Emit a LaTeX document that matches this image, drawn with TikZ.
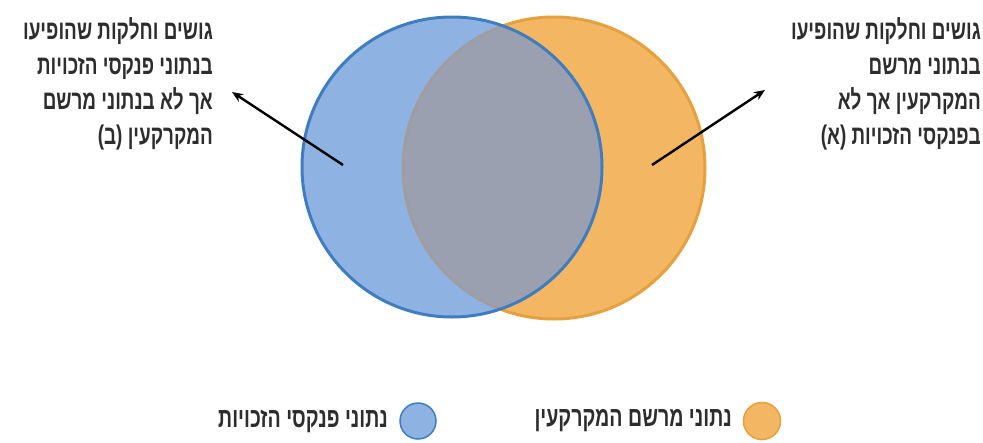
\documentclass[tikz,border=0pt]{standalone}
\usepackage{fontspec}
\usetikzlibrary{arrows.meta}
\TeXXeTstate=1
\newfontfamily\heb[Script=Hebrew,FakeStretch=0.7]{Liberation Sans Bold}
\definecolor{bfill}{RGB}{142,179,226}
\definecolor{bedge}{RGB}{62,125,192}
\definecolor{ofill}{RGB}{243,183,100}
\definecolor{oedge}{RGB}{230,160,62}
\definecolor{lens}{RGB}{155,160,176}
\definecolor{lensedge}{RGB}{160,156,162}
\definecolor{txt}{RGB}{45,45,45}
\tikzset{
  lbl/.style={font=\heb\fontsize{27}{35}\selectfont, text=txt, align=right, inner sep=0pt},
  leg/.style={font=\heb\fontsize{28}{30}\selectfont, text=txt, inner sep=0pt},
  arr/.style={line width=2.4pt, -{Stealth[length=11pt,width=9pt]}, black},
}
\begin{document}
\begin{tikzpicture}[x=1pt,y=1pt]
\useasboundingbox[fill=white] (0,0) rectangle (983,-442);
% Venn circles
\coordinate (bc) at (452,-167);
\coordinate (oc) at (554,-168);
\fill[ofill] (oc) circle (151);
\draw[oedge, line width=3pt] (oc) circle (151);
\fill[bfill] (bc) circle (150);
\begin{scope}
  \clip (bc) circle (150);
  \fill[lens] (oc) circle (151);
  \draw[lensedge, line width=3pt] (oc) circle (151);
\end{scope}
\draw[bedge, line width=3pt] (bc) circle (150);
% arrows
\coordinate (la) at (343,-165);
\coordinate (lb) at (232,-92);
\coordinate (ra) at (652,-165);
\coordinate (rb) at (765,-90);
\draw[arr] (la) -- (lb);
\draw[arr] (ra) -- (rb);
% labels
\node[lbl, anchor=north east] (tl) at (213,-17) {\beginR גושים וחלקות שהופיעו\endR\\\beginR בנתוני פנקסי הזכויות\endR\\\beginR אך לא בנתוני מרשם\endR\\\beginR המקרקעין (ב)\endR};
\node[lbl, anchor=north east] (tr) at (981,-17) {\beginR גושים וחלקות שהופיעו\endR\\\beginR בנתוני מרשם\endR\\\beginR המקרקעין אך לא\endR\\\beginR בפנקסי הזכויות (א)\endR};
% legend
\node[circle, minimum size=36pt, inner sep=0pt, fill=bfill, draw=bedge, line width=1.5pt] (lgb) at (418,-421) {};
\node[circle, minimum size=37pt, inner sep=0pt, fill=ofill, draw=oedge, line width=1.5pt] (lgo) at (762,-421) {};
\node[leg, anchor=east] (lgbt) at (388,-421) {\beginR נתוני פנקסי הזכויות\endR};
\node[leg, anchor=east] (lgot) at (732,-421) {\beginR נתוני מרשם המקרקעין\endR};
\end{tikzpicture}
\end{document}
